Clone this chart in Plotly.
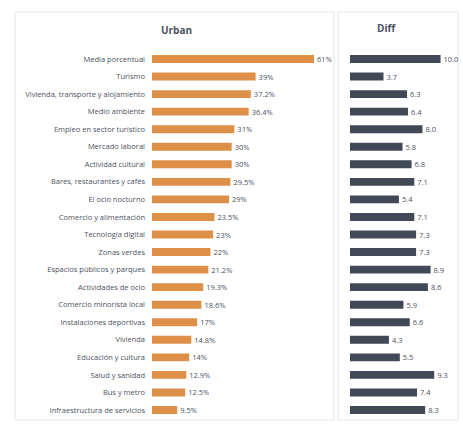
import plotly.graph_objects as go

# Categories (top to bottom)
categories = [
    "Media porcentual",
    "Turismo",
    "Vivienda, transporte y alojamiento",
    "Medio ambiente",
    "Empleo en sector turístico",
    "Mercado laboral",
    "Actividad cultural",
    "Bares, restaurantes y cafés",
    "El ocio nocturno",
    "Comercio y alimentación",
    "Tecnología digital",
    "Zonas verdes",
    "Espacios públicos y parques",
    "Actividades de ocio",
    "Comercio minorista local",
    "Instalaciones deportivas",
    "Vivienda",
    "Educación y cultura",
    "Salud y sanidad",
    "Bus y metro",
    "Infraestructura de servicios",
]

# Urban share (%)
urban_values = [61, 39, 37.2, 36.4, 31, 30, 30, 29.5, 29, 23.5, 23, 22,
                21.2, 19.3, 18.6, 17, 14.8, 14, 12.9, 12.5, 9.5]

# Difference values
diff_values = [10.0, 3.7, 6.3, 6.4, 8.0, 5.8, 6.8, 7.1, 5.4, 7.1, 7.3, 7.3,
               8.9, 8.6, 5.9, 6.6, 4.3, 5.5, 9.3, 7.4, 8.3]

W, H = 463, 426
TEXT = "#4b5262"
FONT = "Open Sans, Arial, sans-serif"

def px_x(v):
    return v / W

def px_y(v):
    return 1 - v / H

fig = go.Figure()

fig.add_trace(go.Bar(
    y=categories, x=urban_values, orientation="h",
    marker=dict(color="#de9049", line=dict(width=0)),
    text=[f"{v:g}%" for v in urban_values],
    textposition="outside", cliponaxis=False, constraintext="none",
    textfont=dict(size=7.5, color=TEXT, family=FONT),
    xaxis="x", yaxis="y", showlegend=False, hoverinfo="skip",
))

fig.add_trace(go.Bar(
    y=categories, x=diff_values, orientation="h",
    marker=dict(color="#414856", line=dict(width=0)),
    text=[f"{v:.1f}" for v in diff_values],
    textposition="outside", cliponaxis=False, constraintext="none",
    textfont=dict(size=7.5, color=TEXT, family=FONT),
    xaxis="x2", yaxis="y2", showlegend=False, hoverinfo="skip",
))

y_dom = [px_y(418.8), px_y(50.2)]

fig.update_layout(
    width=W, height=H,
    margin=dict(l=0, r=0, t=0, b=0),
    paper_bgcolor="white", plot_bgcolor="rgba(0,0,0,0)",
    font=dict(family=FONT, color=TEXT, size=7.5),
    bargap=0.55,
    xaxis=dict(domain=[px_x(152), px_x(330)], range=[0, 67],
               showgrid=False, zeroline=False, showticklabels=False),
    yaxis=dict(domain=y_dom, autorange="reversed", showgrid=False,
               zeroline=False, ticks="", ticklabelstandoff=6,
               tickfont=dict(size=7.5, color=TEXT, family=FONT)),
    xaxis2=dict(domain=[px_x(350), px_x(446)], range=[0, 10.6],
                showgrid=False, zeroline=False, showticklabels=False),
    yaxis2=dict(domain=y_dom, anchor="x2", autorange="reversed",
                showgrid=False, zeroline=False, showticklabels=False),
    shapes=[
        dict(type="rect", xref="paper", yref="paper",
             x0=px_x(15), x1=px_x(334), y0=px_y(420), y1=px_y(12),
             line=dict(color="#e2e5e9", width=1), fillcolor="rgba(0,0,0,0)",
             layer="below"),
        dict(type="rect", xref="paper", yref="paper",
             x0=px_x(338), x1=px_x(458), y0=px_y(420), y1=px_y(12),
             line=dict(color="#e2e5e9", width=1), fillcolor="rgba(0,0,0,0)",
             layer="below"),
    ],
    annotations=[
        dict(text="<b>Urban</b>", xref="paper", yref="paper",
             x=px_x(176), y=px_y(30), yanchor="middle", showarrow=False,
             font=dict(size=10, color=TEXT, family=FONT)),
        dict(text="<b>Diff</b>", xref="paper", yref="paper",
             x=px_x(398), y=px_y(28), yanchor="middle", showarrow=False,
             font=dict(size=10, color=TEXT, family=FONT)),
    ],
)

fig.write_html("out.html")
